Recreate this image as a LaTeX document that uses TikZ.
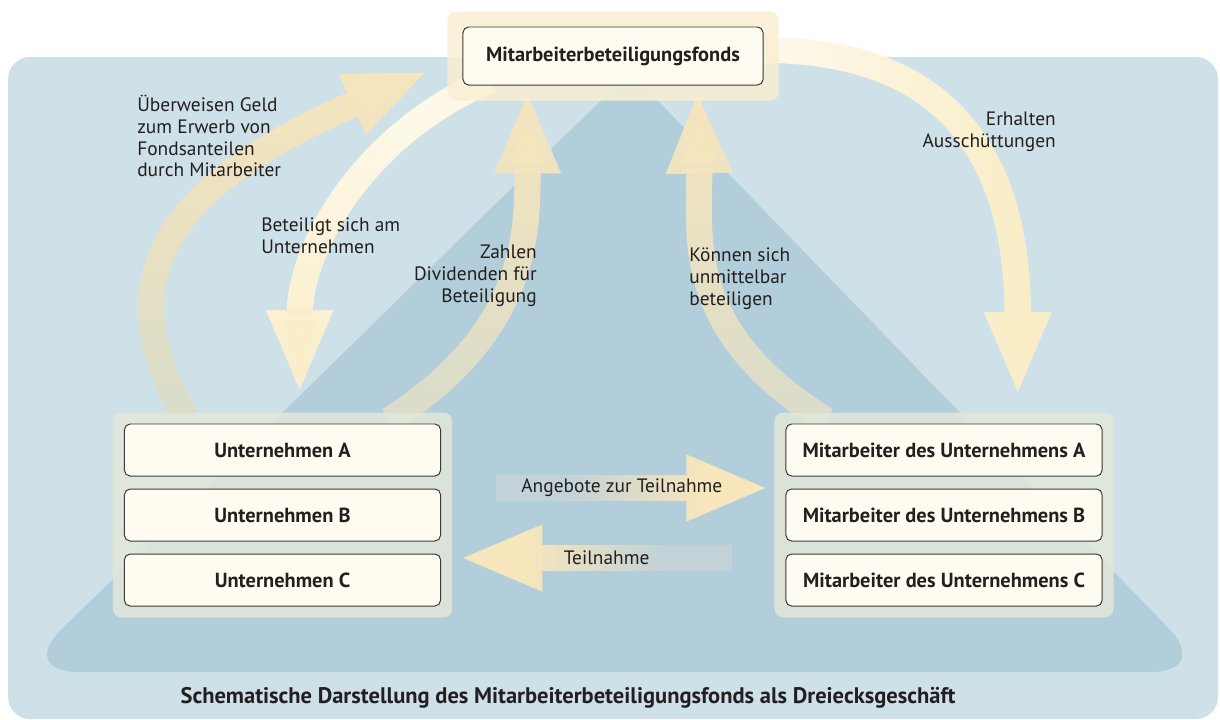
\documentclass[tikz,border=0pt]{standalone}
\usepackage{fontspec}
\setmainfont{PT Sans}
\usetikzlibrary{arrows.meta,positioning,fit,fadings}

\definecolor{skyback}{HTML}{CFE1E8}
\definecolor{skydeep}{HTML}{B2CEDA}
\definecolor{boxfill}{HTML}{FEFCF0}
\definecolor{boxline}{HTML}{3A3A3A}
\definecolor{inktext}{HTML}{231F20}
\definecolor{haloblue}{HTML}{E4E8DA}
\definecolor{halocream}{HTML}{FAEFD2}
\definecolor{creamhead}{HTML}{F7E6BC}
\definecolor{creamwarm}{HTML}{FAEDC6}
\definecolor{creamlight}{HTML}{FEFAEE}
\definecolor{creamtail}{HTML}{D9DCCB}
\definecolor{steeltail}{HTML}{C2D2D8}

\tikzfading[name=fadeup, top color=transparent!0, bottom color=transparent!100]
\tikzfading[name=fadedown, top color=transparent!100, bottom color=transparent!0]
\tikzfading[name=faderight, left color=transparent!100, right color=transparent!0]
\tikzfading[name=fadeleft, left color=transparent!0, right color=transparent!100]

\pgfdeclarelayer{back}
\pgfdeclarelayer{flow}
\pgfdeclarelayer{halo}
\pgfsetlayers{back,flow,halo,main}

\begin{document}
\begin{tikzpicture}[x=0.025cm, y=-0.025cm,
    every node/.style={text=inktext, font=\fontsize{13.8}{15.6}\selectfont},
    firmbox/.style={draw=boxline, fill=boxfill, rounded corners=4pt, line width=0.7pt, minimum width=7.9cm, minimum height=1.3cm, inner sep=2pt, font=\fontsize{14.5}{16}\selectfont\bfseries},
    fundbox/.style={firmbox, minimum width=7.5cm, minimum height=1.45cm},
    halo/.style={fill=haloblue, opacity=0.8, rounded corners=6pt, inner sep=0.275cm},
    fundhalo/.style={fill=halocream, opacity=0.85, rounded corners=6pt, inner sep=0.375cm},
    fatarrow/.style={line width=18.5pt, -{Triangle[width=42.7pt,length=59pt]}},
    note/.style={inner sep=0pt},
    titletext/.style={font=\fontsize{16}{18}\selectfont\bfseries}
  ]
  \useasboundingbox (0,0) rectangle (1220,719);

  % background and triangle
  \begin{pgfonlayer}{back}
    \fill[skyback, rounded corners=0.55cm] (8,57) rectangle (1218,719);
    \fill[skydeep] (630,72) [rounded corners=1.5cm] -- (1211,672) -- (18,672) [sharp corners] -- cycle;
  \end{pgfonlayer}

  \node[fundbox] (fund) at (613,56) {Mitarbeiterbeteiligungsfonds};
  \node[firmbox] (uA) at (282.5,450) {Unternehmen A};
  \node[firmbox, below=0.3cm of uA] (uB) {Unternehmen B};
  \node[firmbox, below=0.3cm of uB] (uC) {Unternehmen C};
  \node[firmbox] (mA) at (944,450) {Mitarbeiter des Unternehmens A};
  \node[firmbox, below=0.3cm of mA] (mB) {Mitarbeiter des Unternehmens B};
  \node[firmbox, below=0.3cm of mB] (mC) {Mitarbeiter des Unternehmens C};

  \begin{pgfonlayer}{halo}
    \node[halo, fit=(uA)(uC)] (grpU) {};
    \node[halo, fit=(mA)(mC)] (grpM) {};
    \node[fundhalo, fit=(fund)] (fundHalo) {};
  \end{pgfonlayer}

  % the flows
  \begin{pgfonlayer}{flow}
    \draw[fatarrow, draw=creamtail, postaction={draw=creamhead, path fading=fadeup}]
      ([shift={(75,8)}]grpU.north west) .. controls +(-98,-165) and +(-224,99) .. ([shift={(-19,15)}]fundHalo.west);
    \draw[fatarrow, draw=creamlight, postaction={draw=creamwarm, path fading=fadedown}]
      ([shift={(27,-5)}]fund.south west) .. controls +(-120,50) and +(0,-150) .. ([shift={(187,-19)}]grpU.north west);
    \draw[fatarrow, draw=creamtail, postaction={draw=creamhead, path fading=fadeup}]
      ([shift={(-63,8)}]grpU.north east) .. controls +(140,-90) and +(0,140) .. ([shift={(65,5)}]fund.south west);
    \draw[fatarrow, draw=creamtail, postaction={draw=creamhead, path fading=fadeup}]
      ([shift={(52,8)}]grpM.north west) .. controls +(-147,-90) and +(3,140) .. ([shift={(-66,5)}]fund.south east);
    \draw[fatarrow, draw=creamlight, postaction={draw=creamwarm, path fading=faderight}]
      ([shift={(0,-6)}]fund.east) .. controls +(160,0) and +(0,-265) .. ([shift={(-96,-17)}]grpM.north east);
    \draw[fatarrow, draw=steeltail, postaction={draw=creamhead, path fading=faderight, fit fading=false, fading transform={shift={(633,487)}, xscale=1.95}}]
      ([shift={(44,-27)}]grpU.east) -- ([shift={(-5,-27)}]grpM.west)
      node[pos=0.46] (offerText) {Angebote zur Teilnahme};
    \draw[fatarrow, draw=steeltail, postaction={draw=creamhead, path fading=fadeleft, fit fading=false, fading transform={shift={(597,556)}, xscale=1.95}}]
      ([shift={(-42,43)}]grpM.west) -- ([shift={(7,43)}]grpU.east)
      node[pos=0.46] (joinText) {Teilnahme};
  \end{pgfonlayer}

  \node[note, anchor=west, align=left] (moneyNote) at (137,136) {Überweisen Geld\\zum Erwerb von\\Fondsanteilen\\durch Mitarbeiter};
  \node[note, anchor=west, align=left] (stakeNote) at (261,236) {Beteiligt sich am\\Unternehmen};
  \node[note, anchor=east, align=right] (divNote) at (537,276) {Zahlen\\Dividenden für\\Beteiligung};
  \node[note, anchor=west, align=left] (directNote) at (689,279) {Können sich\\unmittelbar\\beteiligen};
  \node[note, anchor=east, align=right] (payoutNote) at (1056,132) {Erhalten\\Ausschüttungen};
  \node[titletext] (title) at (568,698) {Schematische Darstellung des Mitarbeiterbeteiligungsfonds als Dreiecksgeschäft};
\end{tikzpicture}
\end{document}
